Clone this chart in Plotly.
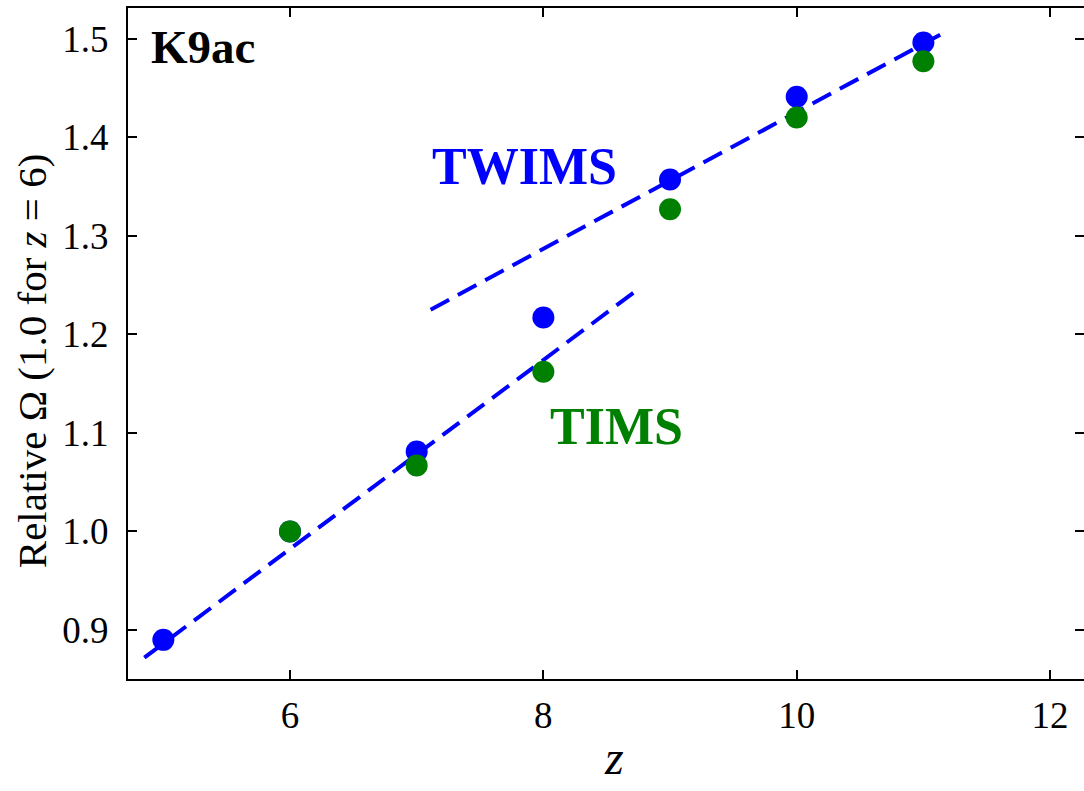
import plotly.graph_objects as go

# Charge states
z_twims = [5, 6, 7, 8, 9, 10, 11]
z_tims = [6, 7, 8, 9, 10, 11]

# Relative cross sections (normalised to 1.0 at z = 6)
omega_twims = [0.890, 1.000, 1.081, 1.217, 1.357, 1.441, 1.496]
omega_tims = [1.000, 1.067, 1.162, 1.327, 1.420, 1.477]

# Linear trend lines (endpoints)
trend_low_x = [4.85, 8.72]
trend_low_y = [0.872, 1.243]
trend_high_x = [7.11, 11.19]
trend_high_y = [1.225, 1.508]

x_ticks = [6, 8, 10, 12]
y_ticks = [0.9, 1.0, 1.1, 1.2, 1.3, 1.4, 1.5]
x_range = [4.721, 12.268]
y_range = [0.8503, 1.5311]

BLUE = "#0000ff"
GREEN = "#008000"
FONT = "Liberation Serif"

fig = go.Figure()

dash = "21px,10px"
fig.add_trace(go.Scatter(x=trend_low_x, y=trend_low_y, mode="lines",
                         line=dict(color=BLUE, width=4, dash=dash),
                         showlegend=False, hoverinfo="skip"))
fig.add_trace(go.Scatter(x=trend_high_x, y=trend_high_y, mode="lines",
                         line=dict(color=BLUE, width=4, dash=dash),
                         showlegend=False, hoverinfo="skip"))
fig.add_trace(go.Scatter(x=z_twims, y=omega_twims, mode="markers", name="TWIMS",
                         marker=dict(color=BLUE, size=22, line=dict(width=0)),
                         showlegend=False))
fig.add_trace(go.Scatter(x=z_tims, y=omega_tims, mode="markers", name="TIMS",
                         marker=dict(color=GREEN, size=22, line=dict(width=0)),
                         showlegend=False))
# carrier trace for the right-hand tick axis
fig.add_trace(go.Scatter(x=[None], y=[None], yaxis="y2", showlegend=False,
                         hoverinfo="skip"))

axis_common = dict(
    showgrid=False, zeroline=False,
    showline=True, linecolor="black", linewidth=2,
    ticks="inside", ticklen=9, tickwidth=2, tickcolor="black",
    tickfont=dict(family=FONT, size=37, color="black"),
)

fig.update_layout(
    width=1084, height=791,
    margin=dict(l=128, r=0, t=8, b=112),
    paper_bgcolor="white", plot_bgcolor="white",
    font=dict(family=FONT, color="black"),
    xaxis=dict(range=x_range, tickvals=x_ticks, ticktext=[str(v) for v in x_ticks],
               mirror="ticks", ticklabelstandoff=3, **axis_common),
    yaxis=dict(range=y_range, tickvals=y_ticks,
               ticktext=[f"{v:.1f}" for v in y_ticks],
               mirror=False, ticklabelstandoff=10, **axis_common),
    yaxis2=dict(overlaying="y", side="right", range=y_range, tickvals=y_ticks,
                showticklabels=False, showline=False, showgrid=False,
                zeroline=False, ticks="inside", ticklen=9, tickwidth=2,
                tickcolor="black"),
)

fig.add_annotation(text="<b>K9ac</b>", x=5.313, y=1.492, xref="x", yref="y",
                   showarrow=False, font=dict(family=FONT, size=47, color="black"))
fig.add_annotation(text="<b>TWIMS</b>", x=7.855, y=1.370, xref="x", yref="y",
                   showarrow=False, font=dict(family=FONT, size=52, color=BLUE))
fig.add_annotation(text="<b>TIMS</b>", x=8.581, y=1.106, xref="x", yref="y",
                   showarrow=False, font=dict(family=FONT, size=52, color=GREEN))

# axis titles
fig.add_annotation(text="Relative Ω (1.0 for <i>z</i> = 6)", textangle=-90,
                   xref="paper", yref="paper", x=0, y=0.4736, xshift=-96,
                   xanchor="center", yanchor="middle", showarrow=False,
                   font=dict(family=FONT, size=41, color="black"))
fig.add_annotation(text="<i>z</i>", xref="paper", yref="paper", x=0.508, y=0,
                   yshift=-107, xanchor="center", yanchor="bottom", showarrow=False,
                   font=dict(family=FONT, size=48, color="black"))

fig.write_html("out.html")
